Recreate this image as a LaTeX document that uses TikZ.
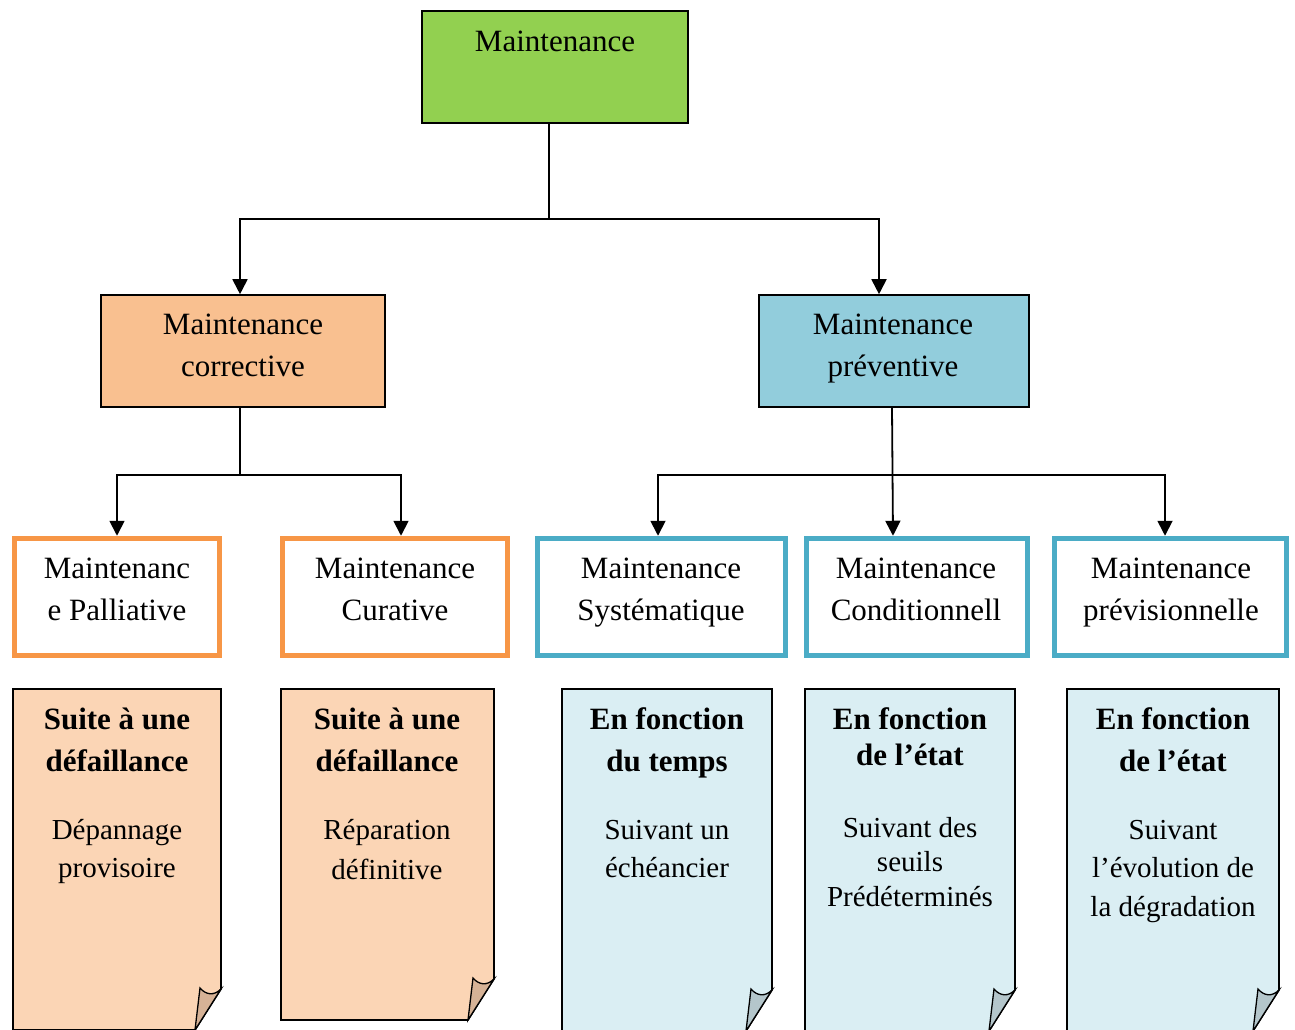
\documentclass[tikz,border=0pt]{standalone}
\usepackage{fontspec}
\setmainfont{Liberation Serif}
\usetikzlibrary{arrows.meta}
\definecolor{cgreen}{HTML}{92D050}
\definecolor{ccorr}{HTML}{F9C090}
\definecolor{cprev}{HTML}{92CDDC}
\definecolor{corange}{HTML}{F79646}
\definecolor{cblue}{HTML}{4BACC6}
\definecolor{npeach}{HTML}{FBD5B5}
\definecolor{nblue}{HTML}{DAEEF3}
\definecolor{curlpeach}{HTML}{D6B296}
\definecolor{curlblue}{HTML}{B4C6CB}
\newcommand{\notepaper}[6]{%
 \path[draw=black, line width=1.6pt, fill=#5] (#1,#2) -- (#3,#2) -- (#3,#4-41) -- (#3-26,#4) -- (#1,#4) -- cycle;
 \path[draw=black, line width=1.3pt, fill=#6] (#3,#4-41) .. controls (#3-7,#4-34) and (#3-15,#4-35) .. (#3-21,#4-42) -- (#3-26,#4) -- cycle;
}
\tikzset{
 box/.style={draw=black, line width=1.6pt, inner sep=0pt},
 obox/.style={draw=corange, line width=5.5pt, fill=white, inner sep=0pt, minimum height=117pt},
 bbox/.style={draw=cblue, line width=5.5pt, fill=white, inner sep=0pt, minimum height=117pt},
 txt/.style={inner sep=0pt, anchor=base, font=\fontsize{31}{36}\selectfont},
 btxt/.style={inner sep=0pt, anchor=base, font=\fontsize{31}{36}\selectfont\bfseries},
 ntxt/.style={inner sep=0pt, anchor=base, font=\fontsize{29}{34}\selectfont},
 line/.style={draw=black, line width=1.8pt},
 arr/.style={draw=black, line width=1.8pt, -{Triangle[length=15pt,width=15pt]}},
}
\begin{document}
\begin{tikzpicture}[x=1pt,y=-1pt]
\useasboundingbox (0,0) rectangle (1295,1030);
\clip (0,0) rectangle (1295,1030);
% boxes
\node[box, fill=cgreen, minimum width=266pt, minimum height=112pt] (top) at (555,67) {};
\node[box, fill=ccorr, minimum width=284pt, minimum height=112pt] (corr) at (243,351) {};
\node[box, fill=cprev, minimum width=270pt, minimum height=112pt] (prev) at (894,351) {};
\node[obox, minimum width=205pt] (pal) at (117,597) {};
\node[obox, minimum width=225pt] (cur) at (395,597) {};
\node[bbox, minimum width=248pt] (sys) at (661.5,597) {};
\node[bbox, minimum width=221pt] (cond) at (917,597) {};
\node[bbox, minimum width=232pt] (previ) at (1170.5,597) {};
% connectors
\coordinate (jt) at (549,219);
\coordinate (jc) at (240,475);
\coordinate (jp) at (892,475);
\draw[line] ([xshift=-6pt]top.south) -- (jt);
\draw[arr] (jt) -| ([xshift=-3pt]corr.north);
\draw[arr] (jt) -| ([xshift=-15pt]prev.north);
\draw[line] ([xshift=-3pt]corr.south) -- (jc);
\draw[arr] (jc) -| (pal.north);
\draw[arr] (jc) -| ([xshift=6pt]cur.north);
\draw[arr] ([xshift=-2pt]prev.south) -- ([xshift=-24pt]cond.north);
\draw[arr] (jp) -| ([xshift=-3.5pt]sys.north);
\draw[arr] (jp) -| ([xshift=-5.5pt]previ.north);
% box texts
\node[txt] (t0) at (555,52) {Maintenance};
\node[txt] (tc1) at (243,334) {Maintenance};
\node[txt] (tc2) at (243,376) {corrective};
\node[txt] (tp1) at (893,334) {Maintenance};
\node[txt] (tp2) at (893,376) {préventive};
\node[txt] (ta1) at (117,578) {Maintenanc};
\node[txt] (ta2) at (117,620) {e Palliative};
\node[txt] (tb1) at (395,578) {Maintenance};
\node[txt] (tb2) at (395,620) {Curative};
\node[txt] (td1) at (661,578) {Maintenance};
\node[txt] (td2) at (661,620) {Systématique};
\node[txt] (te1) at (916,578) {Maintenance};
\node[txt] (te2) at (916,620) {Conditionnell};
\node[txt] (tf1) at (1171,578) {Maintenance};
\node[txt] (tf2) at (1171,620) {prévisionnelle};
% notes
\notepaper{13}{689}{221}{1030}{npeach}{curlpeach}
\notepaper{281}{689}{494}{1020}{npeach}{curlpeach}
\notepaper{562}{689}{772}{1031}{nblue}{curlblue}
\notepaper{805}{689}{1015}{1031}{nblue}{curlblue}
\notepaper{1067}{689}{1279}{1031}{nblue}{curlblue}
\node[btxt] (n1a) at (117,729) {Suite à une};
\node[btxt] (n1b) at (117,771) {défaillance};
\node[ntxt] (n1c) at (117,839) {Dépannage};
\node[ntxt] (n1d) at (117,877) {provisoire};
\node[btxt] (n2a) at (387,729) {Suite à une};
\node[btxt] (n2b) at (387,771) {défaillance};
\node[ntxt] (n2c) at (387,839) {Réparation};
\node[ntxt] (n2d) at (387,879) {définitive};
\node[btxt] (n3a) at (667,729) {En fonction};
\node[btxt] (n3b) at (667,771) {du temps};
\node[ntxt] (n3c) at (667,839) {Suivant un};
\node[ntxt] (n3d) at (667,877) {échéancier};
\node[btxt] (n4a) at (910,729) {En fonction};
\node[btxt] (n4b) at (910,765) {de l’état};
\node[ntxt] (n4c) at (910,837) {Suivant des};
\node[ntxt] (n4d) at (910,871) {seuils};
\node[ntxt] (n4e) at (910,906) {Prédéterminés};
\node[btxt] (n5a) at (1173,729) {En fonction};
\node[btxt] (n5b) at (1173,771) {de l’état};
\node[ntxt] (n5c) at (1173,839) {Suivant};
\node[ntxt] (n5d) at (1173,877) {l’évolution de};
\node[ntxt] (n5e) at (1173,916) {la dégradation};
\end{tikzpicture}
\end{document}
